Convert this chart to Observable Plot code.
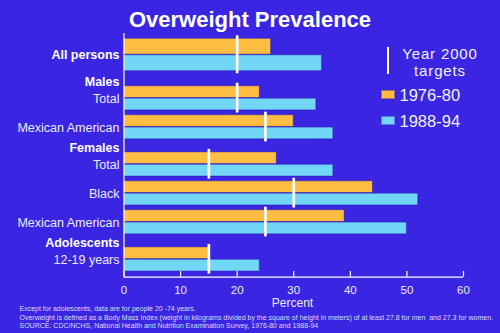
<!DOCTYPE html>
<html><head><meta charset="utf-8">
<script src="https://cdn.jsdelivr.net/npm/d3@7"></script>
<script src="https://cdn.jsdelivr.net/npm/@observablehq/plot@0.6"></script>
<style>
html,body{margin:0;padding:0;background:#3a26e2;}
#wrap{position:relative;width:500px;height:333px;background:#3a26e2;font-family:"Liberation Sans",Arial,Helvetica,sans-serif;color:#fff;overflow:hidden;}
#wrap svg{position:absolute;left:0;top:0;}
.abs{position:absolute;white-space:nowrap;line-height:1;}
</style></head><body><div id="wrap"></div>
<script>
// ---- data ----
const groups = ["All persons", "Total", "Mexican American", "Total", "Black", "Mexican American", "12-19 years"];
const sections = ["", "Males", "", "Females", "", "", "Adolescents"];
const series = ["1976-80", "1988-94"];
const values1976 = [26, 24, 30, 27, 44, 39, 15];
const values1988 = [35, 34, 37, 37, 52, 50, 24];
const targets2000 = [20, 20, 25, 15, 30, 25, 15];
const xTicks = [0, 10, 20, 30, 40, 50, 60];
const title = "Overweight Prevalence";
const xLabel = "Percent";
const targetLabel = ["Year 2000", "targets"];
const notes = [
  "Except for adolescents, data are for people 20 -74 years.",
  "Overweight is defined as a Body Mass Index (weight in kilograms divided by the square of height in meters) of at least 27.8 for men  and 27.3 for women.",
  "SOURCE: CDC/NCHS, National Health and Nutrition Examination Survey, 1976-80 and 1988-94"
];

// ---- styling / layout ----
const FONT = '"Liberation Sans", Arial, Helvetica, sans-serif';
const colors = ["#ffbd42", "#72d7f6"];
const BAR = 3, BAR_FIRST = 4, GAP = 1, GAP_FIRST = 1.5, HEAD = 2;

const rows = [], heads = [], bars = [];
let pos = 0;
groups.forEach((g, i) => {
  if (i > 0) pos += (i === 1 ? GAP_FIRST : GAP);
  if (sections[i]) { heads.push({label: sections[i], yc: pos + HEAD / 2}); pos += HEAD; }
  const h = i === 0 ? BAR_FIRST : BAR;
  rows.push({label: g, bold: i === 0, y1: pos, y2: pos + 2 * h, yc: pos + h, target: targets2000[i]});
  bars.push({series: series[0], value: values1976[i], y1: pos, y2: pos + h});
  bars.push({series: series[1], value: values1988[i], y1: pos + h, y2: pos + 2 * h});
  pos += 2 * h;
});
const yMin = -1.2, yMax = pos + 1.3;
const boldRows = rows.filter(d => d.bold).concat(heads);
const plainRows = rows.filter(d => !d.bold);

const chart = Plot.plot({
  width: 500, height: 333,
  marginLeft: 123.5, marginRight: 37, marginTop: 33, marginBottom: 56.3,
  style: {background: "transparent", fontFamily: FONT, color: "#ececff", overflow: "visible"},
  x: {domain: [0, 60], ticks: xTicks},
  y: {domain: [yMin, yMax], reverse: true, axis: null},
  color: {domain: series, range: colors},
  marks: [
    Plot.rect(bars, {x1: d => 0, x2: "value", y1: "y1", y2: "y2", fill: "series",
      stroke: "#2a12b0", strokeOpacity: 0.5, strokeWidth: 1, insetTop: 0.3, insetBottom: 0.3}),
    Plot.ruleX(rows, {x: "target", y1: d => d.y1 - 0.65, y2: d => d.y2 + 0.55, stroke: "#ffffff", strokeWidth: 2.7}),
    Plot.ruleX([0], {stroke: "#ffffff", strokeWidth: 1.2}),
    Plot.ruleY([yMax], {stroke: "#ffffff", strokeWidth: 1.2}),
    Plot.ruleX(xTicks, {x: d => d, y1: yMax, y2: yMax - 1.35, stroke: "#ffffff", strokeWidth: 1.2}),
    Plot.axisX({ticks: xTicks, tickSize: 0, tickPadding: 8.8, fontSize: 11.5, label: null}),
    Plot.text(plainRows, {frameAnchor: "left", y: "yc", text: "label", textAnchor: "end", dx: -4.5, dy: 0.5,
      fontSize: 12.5, fill: "#ececff"}),
    Plot.text(boldRows, {frameAnchor: "left", y: "yc", text: "label", textAnchor: "end", dx: -4.5, dy: 0.5,
      fontSize: 12.5, fontWeight: "bold", fill: "#ffffff"})
  ]
});

const wrap = document.getElementById("wrap");
wrap.appendChild(chart);

function addDiv(text, css) {
  const d = document.createElement("div");
  d.className = "abs";
  d.textContent = text;
  Object.assign(d.style, css);
  wrap.appendChild(d);
  return d;
}
// title
addDiv(title, {left: "0px", width: "500px", textAlign: "center", top: "9px", fontSize: "22px", fontWeight: "bold", color: "#ffffff"});
// legend: target marker
addDiv("", {left: "386.5px", top: "47.3px", width: "2.8px", height: "27px", background: "#ffffff"});
const tl = addDiv("", {left: "380px", width: "120px", textAlign: "center", top: "44.6px", fontSize: "15px", lineHeight: "17px", letterSpacing: "0.85px", color: "#f2f2ff"});
tl.innerHTML = targetLabel.join("<br>");
// legend: series
const legTops = [87, 113];
series.forEach((s, i) => {
  addDiv("", {left: "380.7px", top: (legTops[i] + 3) + "px", width: "14.3px", height: "8.6px", background: colors[i], boxSizing: "border-box", border: "1px solid rgba(42,18,176,0.45)"});
  addDiv(s, {left: "399.5px", top: legTops[i] + "px", fontSize: "16.5px", color: "#f2f2ff"});
});
// x label
addDiv(xLabel, {left: "242.5px", width: "100px", textAlign: "center", top: "299px", fontSize: "12px", lineHeight: "9px", color: "#ececff"});
// notes
notes.forEach((t, i) => {
  const d = addDiv("", {left: "19.5px", top: (305.2 + i * 8.3) + "px", fontSize: "7px", lineHeight: "8.3px", color: "#dcdcff"});
  d.innerHTML = t.replace(/&/g, "&amp;").replace(/</g, "&lt;").replace(/  /g, " &nbsp;");
});
</script>
</body></html>
